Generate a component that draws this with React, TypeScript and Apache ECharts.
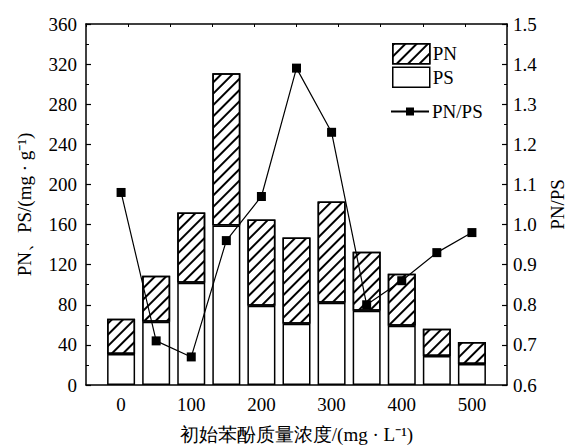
import React, { useEffect, useRef } from "react";
import * as echarts from "echarts";

// Initial phenol concentration (mg/L)
const concentrations = [0, 50, 100, 150, 200, 250, 300, 350, 400, 450, 500];
// Polysaccharide content (mg/g)
const psValues = [31, 63, 102, 159, 79, 61, 82, 74, 59, 29, 21];
// Protein content (mg/g)
const pnValues = [35, 46, 70, 152, 86, 86, 101, 59, 52, 27, 22];
// PN/PS ratio
const ratioValues = [1.08, 0.71, 0.67, 0.96, 1.07, 1.39, 1.23, 0.8, 0.86, 0.93, 0.98];
const xTickLabels = [0, 100, 200, 300, 400, 500];

// The axis runs half a step beyond the first and last concentration
const axisCategories = [-50, ...concentrations, 550];

const FONT = "Times New Roman, Liberation Serif, serif";
const BLACK = "#000";

const onAxis = (values: number[]) =>
  axisCategories.map((c) => {
    const i = concentrations.indexOf(c);
    return i >= 0 ? values[i] : "-";
  });

const isLabelled = (_: number, value: string | number) => xTickLabels.includes(Number(value));

export default function App() {
  const ref = useRef<HTMLDivElement>(null);

  useEffect(() => {
    if (!ref.current) return;
    const chart = echarts.init(ref.current, undefined, { renderer: "svg" });

    const hatch = {
      symbol: "rect",
      symbolSize: 1,
      dashArrayX: [1, 0],
      dashArrayY: [1.3, 5.5],
      rotation: -Math.PI / 4,
      color: BLACK,
    };

    const axisLine = { show: true, onZero: false, lineStyle: { color: BLACK, width: 1.5 } };
    const label = { color: BLACK, fontFamily: FONT, fontSize: 19 };
    const barBorder = { borderColor: BLACK, borderWidth: 1.5, borderJoin: "miter", borderRadius: 0 };

    chart.setOption({
      animation: false,
      backgroundColor: "#fff",
      textStyle: { fontFamily: FONT, color: BLACK },
      grid: { left: 86, right: 60, top: 24, bottom: 60, containLabel: false, outerBoundsMode: "none" },
      legend: [
        {
          orient: "vertical",
          left: 387,
          top: 38,
          icon: "rect",
          itemWidth: 37,
          itemHeight: 20,
          itemGap: 2,
          data: ["PN", "PS"],
          itemStyle: { borderColor: BLACK, borderWidth: 1.5 },
          textStyle: { ...label, padding: [0, 0, 0, -2] },
        },
        {
          left: 385,
          top: 97,
          itemWidth: 38,
          itemHeight: 10,
          data: ["PN/PS"],
          textStyle: { ...label, padding: [0, 0, 0, -2] },
        },
      ],
      xAxis: [
        {
          type: "category",
          data: axisCategories,
          boundaryGap: false,
          position: "bottom",
          axisLine,
          splitLine: { show: false },
          axisTick: {
            inside: true,
            length: 4,
            interval: isLabelled,
            lineStyle: { color: BLACK, width: 1.2 },
          },
          axisLabel: { ...label, margin: 10, interval: isLabelled },
          name: "初始苯酚质量浓度/(mg · L⁻¹)",
          nameLocation: "middle",
          nameGap: 40,
          nameTextStyle: { ...label },
        },
        {
          type: "value",
          min: 0,
          max: 600,
          interval: 60,
          position: "top",
          axisLine,
          splitLine: { show: false },
          axisTick: { inside: true, length: 3, lineStyle: { color: BLACK, width: 1 } },
          axisLabel: { show: false },
        },
      ],
      yAxis: [
        {
          type: "value",
          min: 0,
          max: 360,
          interval: 40,
          axisLine,
          splitLine: { show: false },
          axisTick: { inside: true, length: 5, lineStyle: { color: BLACK, width: 1.2 } },
          minorTick: { show: true, splitNumber: 2, length: 3, lineStyle: { color: BLACK, width: 1 } },
          axisLabel: { ...label, margin: 9 },
          name: "PN、PS/(mg · g⁻¹)",
          nameLocation: "middle",
          nameGap: 52,
          nameRotate: 90,
          nameTextStyle: { ...label },
        },
        {
          type: "value",
          min: 0.6,
          max: 1.5,
          interval: 0.1,
          position: "right",
          axisLine,
          splitLine: { show: false },
          axisTick: { inside: true, length: 5, lineStyle: { color: BLACK, width: 1.2 } },
          minorTick: { show: true, splitNumber: 2, length: 3, lineStyle: { color: BLACK, width: 1 } },
          axisLabel: { ...label, margin: 6, formatter: (v: number) => v.toFixed(1) },
          name: "PN/PS",
          nameLocation: "middle",
          nameGap: 30,
          nameRotate: 90,
          nameTextStyle: { ...label },
        },
      ],
      series: [
        {
          name: "PS",
          type: "bar",
          stack: "eps",
          barWidth: 28,
          xAxisIndex: 0,
          yAxisIndex: 0,
          itemStyle: { color: "#fff", ...barBorder },
          data: onAxis(psValues),
        },
        {
          name: "PN",
          type: "bar",
          stack: "eps",
          barWidth: 28,
          xAxisIndex: 0,
          yAxisIndex: 0,
          itemStyle: { color: "#fff", ...barBorder, decal: hatch },
          data: onAxis(pnValues),
        },
        {
          name: "PN/PS",
          type: "line",
          xAxisIndex: 0,
          yAxisIndex: 1,
          z: 5,
          symbol: "rect",
          symbolSize: 9,
          connectNulls: true,
          lineStyle: { color: BLACK, width: 1.2 },
          itemStyle: { color: BLACK },
          data: onAxis(ratioValues),
        },
      ],
    });

    return () => chart.dispose();
  }, []);

  return <div ref={ref} style={{ width: 567, height: 445, position: "absolute", left: 0, top: 0 }} />;
}
